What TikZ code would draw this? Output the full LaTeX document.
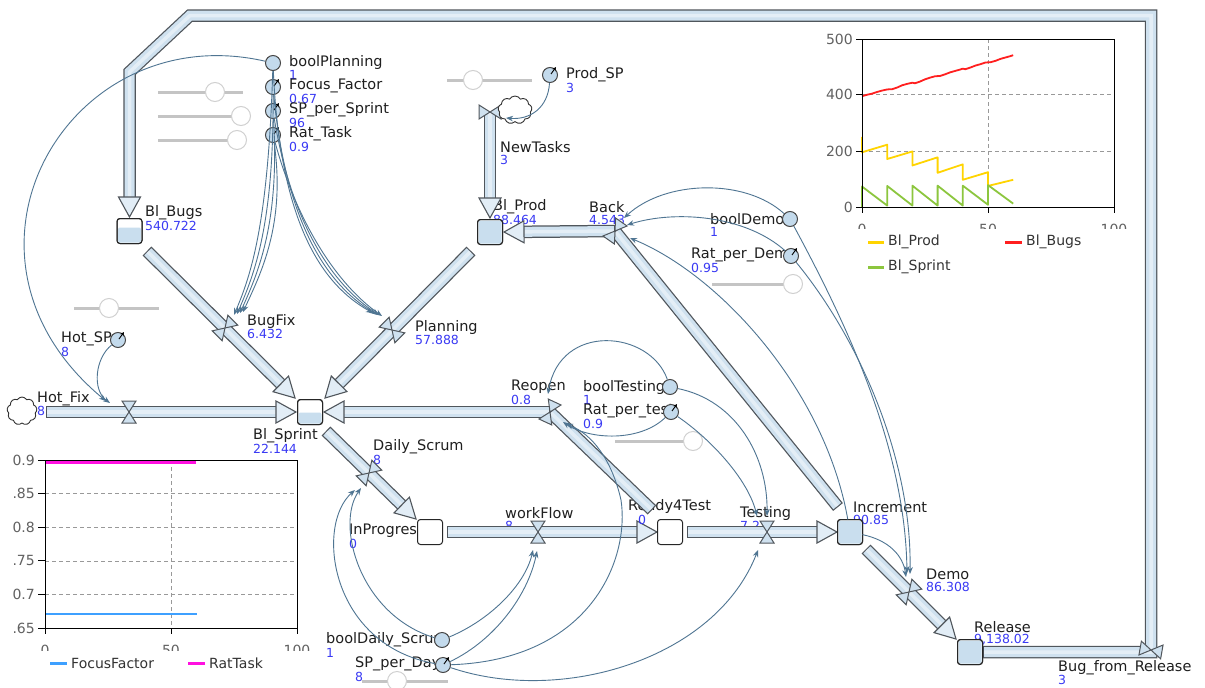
\documentclass[tikz,border=0pt]{standalone}
\usepackage{fontspec}
\setmainfont{DejaVu Sans}
\usetikzlibrary{calc,shapes.symbols,arrows.meta}
\definecolor{pipeedge}{HTML}{50565C}
\definecolor{pipefill}{HTML}{CFE1EF}
\definecolor{headfill}{HTML}{E2EDF6}
\definecolor{conncol}{HTML}{4F7592}
\definecolor{valblue}{HTML}{3A3AF4}
\definecolor{auxfill}{HTML}{C3DAEC}
\definecolor{stockfill}{HTML}{C9DEEE}
\definecolor{cyel}{HTML}{FFD400}
\definecolor{cred}{HTML}{FF1F1F}
\definecolor{cgrn}{HTML}{8CC63E}
\definecolor{cblu}{HTML}{3EA0FF}
\definecolor{cmag}{HTML}{FF10E0}
\definecolor{knobedge}{HTML}{D0D0D0}
\definecolor{barcol}{HTML}{C4C4C4}
\newcommand\mypipe[2][]{\draw[pipeout,#1] #2; \draw[pipein,#1] #2; \draw[pipeshine,#1] #2;}
\newcommand\myhead[2]{\path ($(#2)!20pt!(#1)$) coordinate (hbase);
 \filldraw[headst] (#2) -- ($(hbase)!11pt!90:(#2)$) -- ($(hbase)!11pt!-90:(#2)$) -- cycle;}
\newcommand\mylab[4]{\node[lbl] (L#1) at (#2) {#3}; \node[val] (V#1) at ($(#2)+(0,13)$) {#4};}
\newcommand\myamark[1]{\draw[-{Stealth[length=4pt,width=4pt]}, line width=0.9pt] ($(#1)+(1,-1)$) -- ($(#1)+(6,-8)$);}
\begin{document}
\begin{tikzpicture}[x=1pt, y=-1pt,
 lbl/.style={anchor=west, inner sep=0pt, text=black!88, font=\fontsize{14.5}{16}\selectfont},
 val/.style={anchor=west, inner sep=0pt, text=valblue, font=\fontsize{12.5}{14}\selectfont},
 tickl/.style={inner sep=0pt, text=black!62, font=\fontsize{14}{16}\selectfont},
 leg/.style={anchor=west, inner sep=0pt, text=black!80, font=\fontsize{14}{16}\selectfont},
 aux/.style={circle, draw=black!72, fill=auxfill, line width=1pt, minimum size=15pt, inner sep=0pt},
 stock/.style={rectangle, rounded corners=3pt, draw=black!85, line width=1pt, minimum size=24pt, inner sep=0pt, fill=white},
 cnx/.style={draw=conncol, line width=0.9pt, -{Stealth[length=7pt,width=5.5pt]}},
 pipeout/.style={draw=pipeedge, line width=12.5pt, line join=miter},
 pipein/.style={draw=pipefill, line width=10pt, line join=miter, shorten <=1.2pt, shorten >=1.2pt},
 pipeshine/.style={draw=white, opacity=0.45, line width=3.5pt, line join=miter, shorten <=1.2pt, shorten >=1.2pt},
 headst/.style={fill=headfill, draw=pipeedge, line width=1.1pt, line join=miter},
 valvest/.style={fill=pipefill, draw=pipeedge, line width=1pt, line join=miter},
 sbar/.style={draw=barcol, line width=3pt},
 knob/.style={circle, draw=knobedge, fill=white, line width=1pt, minimum size=19pt, inner sep=0pt},
 gridl/.style={draw=black!40, dash pattern=on 4pt off 3pt, line width=0.6pt},
 valve/.pic={\filldraw[valvest] (0,0) -- (-7,-11) -- (7,-11) -- cycle (0,0) -- (-7,11) -- (7,11) -- cycle;},
 cloudst/.style={cloud, cloud puffs=9, cloud puff arc=120, aspect=1.2, draw=black!80, fill=white, line width=0.9pt, minimum width=34pt, minimum height=28pt, inner sep=0pt}
]
\useasboundingbox (0,0) rectangle (1205,688);
\fill[white] (0,0) rectangle (1205,688);

% ---------- sliders
\foreach \a/\b/\y/\k in {158/243/92/215, 158/243/116/241, 158/243/140/237, 447/532/80/473, 74/159/308/109, 712/793/284/793, 615/693/441/693, 362/448/681/397}{
  \draw[sbar] (\a,\y) -- (\b,\y);
  \node[knob] (kn\y) at (\k,\y) {};}

% ---------- labels
\mylab{bp}{289,62}{boolPlanning}{1}
\mylab{ff}{289,86}{Focus\_Factor}{0.67}
\mylab{sps}{289,110}{SP\_per\_Sprint}{96}
\mylab{rt}{289,134}{Rat\_Task}{0.9}
\mylab{psp}{566,75}{Prod\_SP}{3}
\mylab{nt}{500,147}{NewTasks}{3}
\mylab{bb}{145,213}{Bl\_Bugs}{540.722}
\mylab{bpr}{493,207}{Bl\_Prod}{88.464}
\mylab{bk}{589,207}{Back}{4.543}
\mylab{bd}{710,219}{boolDemo}{1}
\mylab{rpd}{691,255}{Rat\_per\_Demo}{0.95}
\mylab{bf}{247,321}{BugFix}{6.432}
\mylab{pl}{415,327}{Planning}{57.888}
\mylab{hsp}{61,339}{Hot\_SP}{8}
\node[lbl] (Lhf) at (37,399) {Hot\_Fix};
\mylab{bs}{253,436}{Bl\_Sprint}{22.144}
\mylab{ro}{511,387}{Reopen}{0.8}
\mylab{bt}{583,387}{boolTesting}{1}
\mylab{rpt}{583,411}{Rat\_per\_test}{0.9}
\mylab{ds}{373,447}{Daily\_Scrum}{8}
\mylab{ip}{349,531}{InProgress}{0}
\mylab{wf}{505,513}{workFlow}{8}
\node[lbl] (Lr4) at (628,506) {Ready4Test};
\mylab{ts}{740,513}{Testing}{7.2}
\mylab{inc}{853,507}{Increment}{90.85}
\mylab{dm}{926,574}{Demo}{86.308}
\mylab{rel}{974,627}{Release}{9,138.02}
\node[lbl] (Lbfr) at (1058,668) {Bug\_from\_Release};
\node[val] (Vbfr) at (1058,680) {3};
\mylab{bds}{326,640}{boolDaily\_Scrum}{1}
\mylab{spd}{355,664}{SP\_per\_Day}{8}

% ---------- stocks (defined first for names)
\node[stock] (bugs) at (129.5,231) {};
\node[stock] (prod) at (490,232) {};
\node[stock] (sprint) at (310,412) {};
\node[stock] (inprog) at (430,532) {};
\node[stock] (r4t) at (670,532) {};
\node[stock] (incr) at (850,532) {};
\node[stock] (rel) at (970,652) {};

% ---------- pipe coordinates
\coordinate (c1) at (1151,652);
\coordinate (c2) at (1151,15.5);
\coordinate (c3) at (190,15.5);
\coordinate (c4) at (129.5,72);
\coordinate (bugsTip) at (129.5,217);
\coordinate (relE) at (983,652);
\coordinate (vBFR) at (1151,650);
\coordinate (vNT) at (490,112);
\coordinate (prodTipT) at (490,218);
\coordinate (backS) at (838,507);
\coordinate (vBack) at (615,231);
\coordinate (prodTipR) at (504,232);
\coordinate (bfS) at (147,251);
\coordinate (vBF) at (225,328);
\coordinate (sprTipBF) at (295,398);
\coordinate (plS) at (471,251);
\coordinate (vPL) at (392,330);
\coordinate (sprTipPL) at (325,398);
\coordinate (hfS) at (46,412);
\coordinate (vHF) at (129,412);
\coordinate (sprTipHF) at (296,412);
\coordinate (roS) at (652,510);
\coordinate (vRO) at (550,412);
\coordinate (sprTipRO) at (324,412);
\coordinate (dsS) at (326,431);
\coordinate (vDS) at (369,473);
\coordinate (ipTip) at (416,519);
\coordinate (wfS) at (447,532);
\coordinate (vWF) at (538,532);
\coordinate (r4Tip) at (657,532);
\coordinate (tsS) at (687,532);
\coordinate (vTS) at (767,532);
\coordinate (incTip) at (837,532);
\coordinate (dmS) at (866,549);
\coordinate (vDM) at (909,592);
\coordinate (relTip) at (956,639);

% ---------- pipes
\mypipe[shorten >=17pt]{(relE) -- (c1) -- (c2) -- (c3) -- (c4) -- (bugsTip)}
\mypipe[shorten >=17pt]{(vNT) -- (prodTipT)}
\mypipe{(backS) -- (vBack)}
\mypipe[shorten >=17pt]{(vBack) -- (prodTipR)}
\mypipe[shorten >=17pt]{(bfS) -- (sprTipBF)}
\mypipe[shorten >=17pt]{(plS) -- (sprTipPL)}
\mypipe[shorten >=17pt]{(hfS) -- (sprTipHF)}
\mypipe{(roS) -- (vRO)}
\mypipe[shorten >=17pt]{(vRO) -- (sprTipRO)}
\mypipe[shorten >=17pt]{(dsS) -- (ipTip)}
\mypipe[shorten >=17pt]{(wfS) -- (r4Tip)}
\mypipe[shorten >=17pt]{(tsS) -- (incTip)}
\mypipe[shorten >=17pt]{(dmS) -- (relTip)}
\myhead{c4}{bugsTip}
\myhead{vNT}{prodTipT}
\myhead{vBack}{prodTipR}
\myhead{bfS}{sprTipBF}
\myhead{plS}{sprTipPL}
\myhead{hfS}{sprTipHF}
\myhead{vRO}{sprTipRO}
\myhead{dsS}{ipTip}
\myhead{wfS}{r4Tip}
\myhead{tsS}{incTip}
\myhead{dmS}{relTip}
\node[val] (Vhf) at (37,411) {8};
\node[val] (Vr4) at (638,520) {0};

% ---------- stocks drawn over pipe ends
\foreach \s in {bugs,prod,sprint,inprog,r4t,incr,rel}{
  \filldraw[fill=white, draw=black!85, line width=1pt, rounded corners=3pt] (\s.south west) rectangle (\s.north east);}
\fill[stockfill, rounded corners=2pt] ($(bugs.south west)+(1,-1)$) rectangle ($(bugs.north east)+(-1,9)$);
\fill[stockfill, rounded corners=2pt] ($(sprint.south west)+(1,-1)$) rectangle ($(sprint.north east)+(-1,13)$);
\foreach \s in {prod,incr,rel}{
  \fill[stockfill, rounded corners=2pt] ($(\s.south west)+(1,-1)$) rectangle ($(\s.north east)+(-1,1)$);}
\foreach \s in {bugs,prod,sprint,incr,rel}{
  \draw[draw=black!85, line width=1pt, rounded corners=3pt] (\s.south west) rectangle (\s.north east);}

% ---------- valves
\pic[rotate=80] at (vBFR) {valve};
\pic[rotate=90] at (vNT) {valve};
\pic[rotate=-35] at (vBack) {valve};
\pic[rotate=-45] at (vBF) {valve};
\pic[rotate=45] at (vPL) {valve};
\pic at (vHF) {valve};
\pic[rotate=-25] at (vRO) {valve};
\pic[rotate=-45] at (vDS) {valve};
\pic at (vWF) {valve};
\pic at (vTS) {valve};
\pic[rotate=-45] at (vDM) {valve};

% ---------- clouds
\node[cloudst] (cloudNT) at (515,110) {};
\node[cloudst, minimum width=30pt] (cloudHF) at (22,411) {};

% ---------- auxiliaries
\node[aux] (auxBP) at (273,63) {};
\node[aux] (auxFF) at (273,87) {};
\node[aux] (auxSPS) at (273,111) {};
\node[aux] (auxRT) at (273,135) {};
\node[aux] (auxPSP) at (550,75) {};
\node[aux] (auxHSP) at (118,340) {};
\node[aux] (auxBD) at (790,219) {};
\node[aux] (auxRPD) at (791,256) {};
\node[aux] (auxBT) at (670,387) {};
\node[aux] (auxRPT) at (671,412) {};
\node[aux] (auxBDS) at (442,640) {};
\node[aux] (auxSPD) at (443,665) {};
\foreach \s in {auxFF,auxSPS,auxRT,auxPSP,auxHSP,auxRPD,auxRPT,auxSPD}{\myamark{\s}}

% ---------- connector end points
\coordinate (aHF1) at (110,403);
\coordinate (aHF2) at (106,401);
\coordinate (aBF1) at (234,315);
\coordinate (aBF2) at (237,314);
\coordinate (aBF3) at (240,313);
\coordinate (aBF4) at (243,312);
\coordinate (aPL1) at (373,313);
\coordinate (aPL2) at (376,314);
\coordinate (aPL3) at (379,315);
\coordinate (aPL4) at (382,316);
\coordinate (aNT) at (506,118);
\coordinate (aBK1) at (624,218);
\coordinate (aBK2) at (627,225);
\coordinate (aBK3) at (630,238);
\coordinate (aDM1) at (907,573);
\coordinate (aDM2) at (910,574);
\coordinate (aDM3) at (906,577);
\coordinate (aRO1) at (548,394);
\coordinate (aRO2) at (563,422);
\coordinate (aRO3) at (566,424);
\coordinate (mSPD) at (621,500);
\coordinate (aTS1) at (767,516);
\coordinate (aTS2) at (757,516);
\coordinate (aTS3) at (758,550);
\coordinate (aDS1) at (361,488);
\coordinate (aDS2) at (355,490);
\coordinate (aWF1) at (533,550);
\coordinate (aWF2) at (537,551);

% ---------- connectors
\draw[cnx] (auxBP) .. controls (68,16) and (-70,255) .. (aHF2);
\draw[cnx] (auxHSP) .. controls (95,358) and (92,390) .. (aHF1);
\foreach \s/\i in {auxBP/1,auxFF/2,auxSPS/3,auxRT/4}{
  \draw[cnx] (\s) .. controls ({262+6*\i},225) and ({248+3*\i},275) .. (aBF\i);
  \draw[cnx] (\s) .. controls ({274+6*\i},225) and ({318+5*\i},285) .. (aPL\i);}
\draw[cnx] (auxPSP) .. controls (548,108) and (530,120) .. (aNT);
\draw[cnx] (auxBD) .. controls (745,178) and (665,180) .. (aBK1);
\draw[cnx] (auxRPD) .. controls (745,215) and (675,210) .. (aBK2);
\draw[cnx] (incr) .. controls (825,390) and (720,275) .. (aBK3);
\draw[cnx] (auxBD) .. controls (850,330) and (905,450) .. (aDM1);
\draw[cnx] (auxRPD) .. controls (860,340) and (912,460) .. (aDM2);
\draw[cnx] (incr) .. controls (888,540) and (903,555) .. (aDM3);
\draw[cnx] (auxBT) .. controls (650,330) and (560,322) .. (aRO1);
\draw[cnx] (auxRPT) .. controls (640,442) and (590,440) .. (aRO2);
\draw[cnx] (auxSPD) .. controls (590,660) and (630,560) .. (mSPD) .. controls (612,460) and (592,434) .. (aRO3);
\draw[cnx] (auxBT) .. controls (735,400) and (768,455) .. (aTS1);
\draw[cnx] (auxRPT) .. controls (712,440) and (748,480) .. (aTS2);
\draw[cnx] (auxSPD) .. controls (560,705) and (715,660) .. (aTS3);
\draw[cnx] (auxBDS) .. controls (360,615) and (335,525) .. (aDS1);
\draw[cnx] (auxSPD) .. controls (330,645) and (315,525) .. (aDS2);
\draw[cnx] (auxBDS) .. controls (490,620) and (525,585) .. (aWF1);
\draw[cnx] (auxSPD) .. controls (495,640) and (528,595) .. (aWF2);

% ---------- chart 1 (top right)
\fill[white] (862,39) rectangle (1114,207);
\draw[gridl] (862,94.5) -- (1114,94.5) (862,151) -- (1114,151) (988,39) -- (988,207);
\begin{scope}[shift={(862,207)}, x=2.52pt, y=0.2806pt, line join=round]
  \draw[cyel, line width=1.8pt] (0,250) -- (0,195) -- (10,222) -- (10,171) -- (20,198) -- (20,148) -- (30,177) -- (30,122) -- (40,152) -- (40,97) -- (50,124) -- (50,75) -- (60,97);
  \draw[cgrn, line width=1.8pt] (0,0) -- (0,73) -- (10,5) -- (10,75) -- (20,5) -- (20,76) -- (30,5) -- (30,76) -- (40,5) -- (40,76) -- (50,8) -- (50,78) -- (60,12);
  \draw[cred, line width=1.8pt] plot coordinates {(0,395) (2,400) (4,404) (6,410) (8,415) (10,419) (12,420) (14,426) (16,434) (18,439) (20,443) (21,441) (23,447) (25,455) (27,461) (29,466) (31,467) (33,473) (35,480) (37,485) (39,490) (40,493) (41,491) (43,497) (45,504) (47,509) (49,515) (51,516) (53,521) (55,528) (57,533) (59,538) (60,541)};
\end{scope}
\draw[black, line width=1pt] (862,39) rectangle (1114,207);
\draw[black, line width=0.8pt] (856,39) -- (862,39) (856,94.5) -- (862,94.5) (856,151) -- (862,151) (856,207) -- (862,207) (862,207) -- (862,213) (988,207) -- (988,213) (1114,207) -- (1114,213);
\node[tickl, anchor=east] (ya1) at (853,39) {500};
\node[tickl, anchor=east] (ya2) at (853,94.5) {400};
\node[tickl, anchor=east] (ya3) at (853,151) {200};
\node[tickl, anchor=east] (ya4) at (853,207) {0};
\begin{scope}
  \clip (840,216) rectangle (1140,228.5);
  \node[tickl] (xa1) at (862,229) {0};
  \node[tickl] (xa2) at (988,229) {50};
  \node[tickl] (xa3) at (1114,229) {100};
\end{scope}
\draw[cyel, line width=3pt] (868,242) -- (884,242);
\node[leg] (lg1) at (888,242) {Bl\_Prod};
\draw[cred, line width=3pt] (1005,242) -- (1022,242);
\node[leg] (lg2) at (1026,242) {Bl\_Bugs};
\draw[cgrn, line width=3pt] (868,267) -- (884,267);
\node[leg] (lg3) at (888,267) {Bl\_Sprint};

% ---------- chart 2 (bottom left)
\fill[white] (45,460) rectangle (297,628);
\draw[gridl] (45,493.6) -- (297,493.6) (45,527.2) -- (297,527.2) (45,560.8) -- (297,560.8) (45,594.4) -- (297,594.4) (171,460) -- (171,628);
\begin{scope}[shift={(45,628)}, x=2.52pt, y=672pt]
  \draw[cmag, line width=4pt] (0,0.247) -- (60,0.247);
  \draw[cblu, line width=2pt] (0,0.021) -- (60.5,0.021);
\end{scope}
\draw[black, line width=1pt] (45,460) rectangle (297,628);
\draw[black, line width=0.8pt] (38,460) -- (45,460) (38,493.6) -- (45,493.6) (38,527.2) -- (45,527.2) (38,560.8) -- (45,560.8) (38,594.4) -- (45,594.4) (38,628) -- (45,628) (45,628) -- (45,634) (171,628) -- (171,634) (297,628) -- (297,634);
\node[tickl, anchor=east] (yb1) at (35,460) {0.9};
\node[tickl, anchor=east] (yb2) at (35,493.6) {.85};
\node[tickl, anchor=east] (yb3) at (35,527.2) {0.8};
\node[tickl, anchor=east] (yb4) at (35,560.8) {.75};
\node[tickl, anchor=east] (yb5) at (35,594.4) {0.7};
\node[tickl, anchor=east] (yb6) at (35,628) {.65};
\begin{scope}
  \clip (20,637) rectangle (320,650);
  \node[tickl] (xb1) at (45,650) {0};
  \node[tickl] (xb2) at (171,650) {50};
  \node[tickl] (xb3) at (297,650) {100};
\end{scope}
\draw[cblu, line width=3pt] (50,663) -- (67,663);
\node[leg] (lg4) at (71,663) {FocusFactor};
\draw[cmag, line width=3pt] (188,663) -- (205,663);
\node[leg] (lg5) at (209,663) {RatTask};
\end{tikzpicture}
\end{document}
